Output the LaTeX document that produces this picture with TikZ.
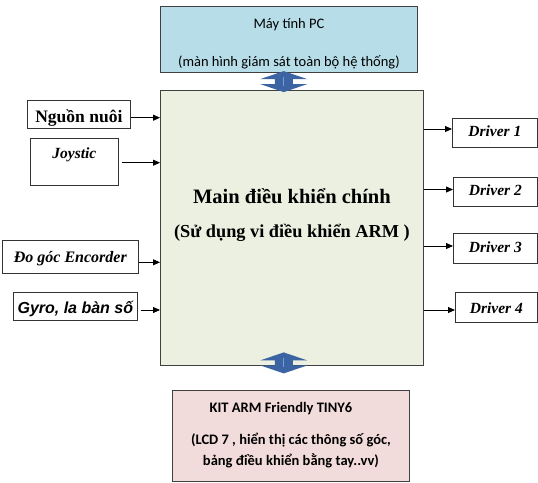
\documentclass[tikz,border=0pt]{standalone}
\usepackage{fontspec}
\setmainfont{Liberation Serif}
\newfontfamily\calfont{Carlito}
\newfontfamily\arialfont{Liberation Sans}
\usepackage{xcolor}
\definecolor{pcblue}{RGB}{183,222,232}
\definecolor{mainbg}{RGB}{236,240,225}
\definecolor{kitpink}{RGB}{242,220,219}
\definecolor{edge}{RGB}{64,64,64}
\definecolor{arrblue}{RGB}{60,100,162}
\definecolor{arrlite}{RGB}{110,160,220}
\usepackage{tikz}
\usetikzlibrary{arrows.meta,positioning,calc}
\newcommand{\setfs}[1]{\fontsize{#1}{#1}\selectfont}

\begin{document}
\begin{tikzpicture}[x=1pt,y=-1pt,
  panel/.style={draw=edge,line width=0.9pt,inner sep=0pt,anchor=north west},
  tag/.style={draw=black!80,line width=0.7pt,inner sep=0pt,anchor=north west},
  arr/.style={-{Triangle[length=7pt,width=6pt]},line width=0.8pt},
  updown/.pic={
    \fill[arrblue] (0,-10.5) -- (23.5,-2.5) -- (9,-2.5) -- (9,2.5) -- (23.5,2.5)
      -- (0,10.5) -- (-23.5,2.5) -- (-9,2.5) -- (-9,-2.5) -- (-23.5,-2.5) -- cycle;
    \draw[arrlite,line width=1.2pt] (0,-4.5) -- (0,4.5);
  },
]
  \useasboundingbox (0,0) rectangle (538,482);

  %% main board
  \node[panel,fill=mainbg,minimum width=263pt,minimum height=275pt](M) at (160,90) {};
  \node[font=\setfs{20.5}\bfseries,anchor=base](M1)
    at ([yshift=-113.3pt]M.north) {Main điều khiển chính};
  \node[font=\setfs{18.3}\bfseries,anchor=base](M2)
    at ([yshift=-147.3pt]M.north) {(Sử dụng vi điều khiển ARM )};

  %% PC on top
  \node[panel,fill=pcblue,minimum width=257pt,minimum height=66pt](PC) at (160,6) {};
  \node[font=\calfont\setfs{14.5},anchor=base](PC1)
    at ([yshift=-22.3pt]PC.north) {Máy tính PC};
  \node[font=\calfont\setfs{14.5},anchor=base](PC2)
    at ([yshift=-60.7pt]PC.north) {(màn hình giám sát toàn bộ hệ thống)};

  %% KIT at the bottom
  \node[panel,fill=kitpink,minimum width=237pt,minimum height=91pt](K) at (172,390) {};
  \node[font=\calfont\setfs{14.5}\bfseries,anchor=base](K1)
    at ([xshift=-10pt,yshift=-22.7pt]K.north) {KIT ARM Friendly TINY6};
  \node[font=\calfont\setfs{14.5}\bfseries,anchor=base](K2)
    at ([yshift=-54pt]K.north) {(LCD 7 , hiển thị các thông số góc,};
  \node[font=\calfont\setfs{14.5}\bfseries,anchor=base](K3)
    at ([yshift=-75pt]K.north) {bảng điều khiển bằng tay..vv)};

  %% links to PC and KIT
  \pic at ([xshift=-5.2pt,yshift=-8.7pt]PC.south) {updown};
  \pic at ([xshift=-8.2pt,yshift=3pt]M.south) {updown};

  %% inputs
  \node[tag,font=\setfs{17.5}\bfseries,minimum width=103pt,
        text height=22pt,text depth=6pt](PW) at (27,100) {Nguồn nuôi};
  \node[tag,font=\setfs{15.5}\bfseries\itshape,minimum width=88pt,
        text height=20pt,text depth=27pt](JS) at (30,138) {Joystic};
  \node[tag,font=\setfs{16}\bfseries\itshape,minimum width=136pt,
        text height=22pt,text depth=11pt](EN) at (2,240) {Đo góc Encorder};
  \node[tag,font=\arialfont\setfs{16}\bfseries\itshape,minimum width=124pt,
        text height=21pt,text depth=7pt](GY) at (13,292) {Gyro, la bàn số};

  \coordinate (pw) at ([yshift=-17.7pt]PW.north east);
  \coordinate (js) at ([xshift=3pt,yshift=-24.7pt]JS.north east);
  \coordinate (en) at ([yshift=-22.3pt]EN.north east);
  \coordinate (gy) at ([xshift=3pt,yshift=-18pt]GY.north east);
  \foreach \c in {pw,js,en,gy}
    \draw[arr] (\c) -- (\c -| M.west);

  %% outputs
  \foreach \n/\yt/\xl/\tH/\tD/\ay in {1/118/452/18/11/11, 2/177/453/18/11/12.5,
                                      3/233/453/19/11/13, 4/292/455/21/9/18}{
    \node[tag,font=\setfs{15.5}\bfseries\itshape,minimum width={537-\xl},
          text height=\tH pt,text depth=\tD pt](D\n) at (\xl,\yt) {Driver \n};
    \coordinate (d\n) at ([yshift=-\ay pt]D\n.north west);
    \draw[arr] (d\n -| M.east) -- (d\n);
  }
\end{tikzpicture}
\end{document}
